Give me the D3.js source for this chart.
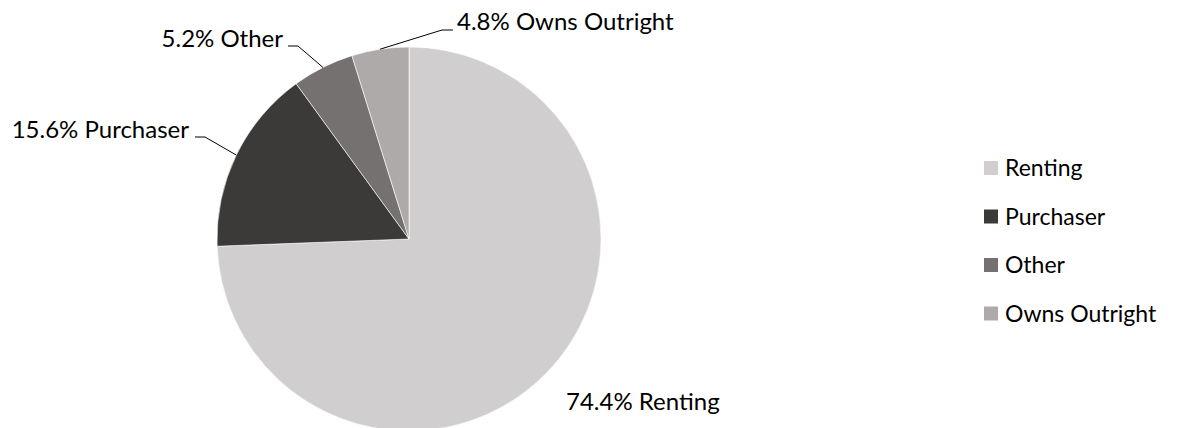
<!DOCTYPE html>
<html>
<head>
  <meta charset="utf-8">
  <script src="https://d3js.org/d3.v7.min.js"></script>
  <style>
    body { margin: 0; background: #fff; }
    text { font-family: Lato, "Open Sans", sans-serif; fill: #000; }
  </style>
</head>
<body>
  <div id="chart"></div>
  <script>
    var categories = ["Renting", "Purchaser", "Other", "Owns Outright"];
    var values = [74.4, 15.6, 5.2, 4.8];
    var colors = ["#d0cecf", "#3b3a38", "#757170", "#aeaaa9"];

    // where each data label sits (Excel put them by hand)
    var labelLayout = [
      {x: 566, y: 410, anchor: "start", elbow: null},
      {x: 189, y: 138, anchor: "end", elbow: [205, 137], tail: [195, 137]},
      {x: 283, y: 47, anchor: "end", elbow: [298, 46], tail: [288, 46]},
      {x: 457, y: 30, anchor: "start", elbow: [442, 30], tail: [453, 30]}
    ];

    var width = 1180, height = 428;
    var cx = 409, cy = 239, radius = 192;

    var data = categories.map(function(c, i) { return {name: c, value: values[i], color: colors[i]}; });

    var svg = d3.select("#chart").append("svg")
      .attr("width", width)
      .attr("height", height);

    var pie = d3.pie().sort(null).value(function(d) { return d.value; });
    var arc = d3.arc().innerRadius(0).outerRadius(radius);
    var arcs = pie(data);

    var g = svg.append("g").attr("transform", "translate(" + cx + "," + cy + ")");

    g.selectAll("path")
      .data(arcs)
      .enter()
      .append("path")
      .attr("d", arc)
      .attr("fill", function(d) { return d.data.color; })
      .attr("stroke", "#fff")
      .attr("stroke-width", 0.6);

    // leader lines start on the rim at the middle of the slice
    arcs.forEach(function(a, i) {
      var L = labelLayout[i];
      if (L.elbow) {
        var mid = (a.startAngle + a.endAngle) / 2;
        var px = cx + radius * Math.sin(mid), py = cy - radius * Math.cos(mid);
        svg.append("polyline")
          .attr("points", [[px, py], L.elbow, L.tail].map(function(p) { return p.join(","); }).join(" "))
          .attr("fill", "none")
          .attr("stroke", "#000")
          .attr("stroke-width", 1);
      }
      svg.append("text")
        .attr("x", L.x)
        .attr("y", L.y)
        .attr("text-anchor", L.anchor)
        .style("font-size", "24px")
        .text(d3.format(".1f")(a.data.value) + "% " + a.data.name);
    });

    var legend = svg.append("g").attr("transform", "translate(984,161)");
    var item = legend.selectAll("g")
      .data(data)
      .enter()
      .append("g")
      .attr("transform", function(d, i) { return "translate(0," + (i * 48.5) + ")"; });

    item.append("rect")
      .attr("width", 14)
      .attr("height", 14)
      .attr("fill", function(d) { return d.color; });

    item.append("text")
      .attr("x", 21)
      .attr("y", 15)
      .style("font-size", "23px")
      .text(function(d) { return d.name; });
  </script>
</body>
</html>
